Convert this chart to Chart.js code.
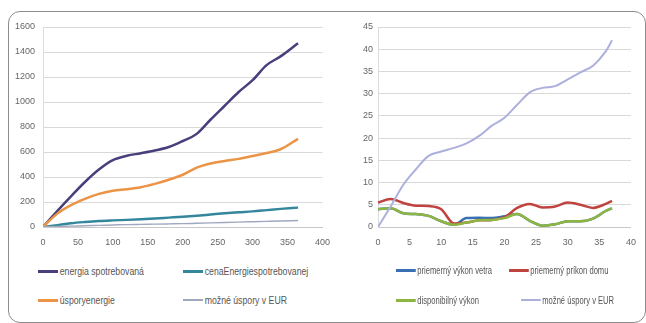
<!DOCTYPE html>
<html lang="sk">
<head>
  <meta charset="UTF-8" />
  <title>Energia a úspory</title>
  <script src="https://cdn.jsdelivr.net/npm/chart.js"></script>
  <style>
    body {
      margin: 0;
      background: #fff;
      font-family: 'Liberation Sans Narrow', 'Liberation Sans', sans-serif;
    }
    .wrap {
      position: relative;
      width: 646px;
      height: 323px;
      overflow: hidden;
    }
    .frame {
      position: absolute;
      left: 8px;
      top: 11px;
      width: 636px;
      height: 310px;
      border: 1px solid #8c8c8c;
      border-radius: 12px;
    }
    canvas { position: absolute; top: 0; }
    #leftChart { left: 0; }
    #rightChart { left: 335px; }
    .leg {
      position: absolute;
      font-size: 10px;
      color: #555;
      white-space: nowrap;
      line-height: 12px;
      transform-origin: left center;
    }
    .leg i {
      display: inline-block;
      width: 20px;
      height: 3px;
      vertical-align: middle;
      margin-right: 2px;
      margin-top: -2px;
    }
  </style>
</head>
<body>
  <div class="wrap">
    <div class="frame"></div>
    <canvas id="leftChart" width="340" height="247"></canvas>
    <canvas id="rightChart" width="311" height="247"></canvas>
    <div id="legends"></div>
  </div>

  <script>
    // left chart: days of year
    const daysX = [0, 20, 40, 60, 80, 100, 120, 140, 160, 180, 200, 220, 240, 260, 280, 300, 320, 340, 365];
    const energiaSpotrebovana = [0, 125, 245, 360, 460, 535, 570, 590, 612, 640, 688, 745, 860, 970, 1080, 1175, 1295, 1365, 1470];
    const cenaEnergie = [0, 15, 30, 40, 48, 53, 57, 62, 68, 75, 82, 90, 100, 110, 118, 125, 135, 145, 155];
    const usporyEnergie = [0, 105, 175, 225, 265, 290, 302, 318, 345, 378, 418, 475, 508, 528, 545, 568, 592, 622, 705];
    const mozneUsporyEur = [0, 4, 7, 10, 13, 16, 19, 21, 23, 25, 27, 30, 33, 36, 39, 42, 45, 48, 52];

    // right chart
    const stepX = [0, 2, 4, 6, 8, 10, 12, 14, 16, 18, 20, 22, 24, 26, 28, 30, 32, 34, 36, 37];
    const vykonVetra = [4.0, 4.2, 3.1, 2.9, 2.5, 1.3, 0.5, 2.0, 2.1, 2.0, 2.4, 2.9, 1.4, 0.3, 0.6, 1.3, 1.3, 1.9, 3.6, 4.2];
    const prikonDomu = [5.5, 6.3, 5.4, 4.8, 4.7, 4.0, 0.8, 1.0, 1.5, 1.6, 2.2, 4.3, 5.2, 4.4, 4.6, 5.5, 5.0, 4.3, 5.2, 5.9];
    const disponibilnyVykon = [4.0, 4.2, 3.1, 2.9, 2.5, 1.3, 0.5, 1.0, 1.5, 1.6, 2.0, 2.9, 1.4, 0.3, 0.6, 1.3, 1.3, 1.9, 3.6, 4.2];
    const mozneUsporyEur2 = [0, 4.6, 9.5, 13, 16, 17, 17.8, 18.8, 20.5, 22.8, 24.6, 27.5, 30.3, 31.3, 31.7, 33.2, 34.8, 36.3, 39.5, 42];

    const leftXTicks = [0, 50, 100, 150, 200, 250, 300, 350, 400];
    const leftYTicks = [0, 200, 400, 600, 800, 1000, 1200, 1400, 1600];
    const rightXTicks = [0, 5, 10, 15, 20, 25, 30, 35, 40];
    const rightYTicks = [0, 5, 10, 15, 20, 25, 30, 35, 40, 45];

    const pts = (xs, ys) => xs.map((x, i) => ({ x, y: ys[i] }));

    function series(label, xs, ys, color, width, order) {
      return {
        label,
        data: pts(xs, ys),
        borderColor: color,
        backgroundColor: color,
        borderWidth: width,
        pointRadius: 0,
        cubicInterpolationMode: 'monotone',
        fill: false,
        order // later series on top, like in the spreadsheet
      };
    }

    function makeOptions(xTicks, yTicks, rightPad, yPad) {
      return {
        responsive: false,
        animation: false,
        layout: { padding: { top: 27, right: rightPad, left: 0, bottom: 0 } },
        plugins: { legend: { display: false }, tooltip: { enabled: false } },
        scales: {
          x: {
            type: 'linear',
            min: xTicks[0],
            max: xTicks[xTicks.length - 1],
            afterBuildTicks: s => { s.ticks = xTicks.map(v => ({ value: v })); },
            afterFit: s => { s.height = 20; },
            grid: { display: false, drawTicks: false },
            border: { color: '#c8c8c8' },
            ticks: { color: '#666', font: { size: 9 }, padding: 10, maxRotation: 0, callback: v => String(v) }
          },
          y: {
            min: yTicks[0],
            max: yTicks[yTicks.length - 1],
            afterBuildTicks: s => { s.ticks = yTicks.map(v => ({ value: v })); },
            afterFit: s => { s.width = 43; },
            grid: { color: '#d9d9d9', drawTicks: false },
            border: { color: '#dcdcdc' },
            ticks: { color: '#666', font: { size: 9 }, padding: yPad, callback: v => String(v) }
          }
        }
      };
    }

    const leftChart = new Chart(document.getElementById('leftChart'), {
      type: 'line',
      data: {
        datasets: [
          series('energia spotrebovaná', daysX, energiaSpotrebovana, '#4a3f7c', 2.5, 3),
          series('cenaEnergiespotrebovanej', daysX, cenaEnergie, '#34869c', 2.5, 2),
          series('úsporyenergie', daysX, usporyEnergie, '#ec9446', 2.5, 1),
          series('možné úspory v EUR', daysX, mozneUsporyEur, '#9fa8bf', 1.5, 0)
        ]
      },
      options: makeOptions(leftXTicks, leftYTicks, 10, 8)
    });

    const rightChart = new Chart(document.getElementById('rightChart'), {
      type: 'line',
      data: {
        datasets: [
          series('priemerný výkon vetra', stepX, vykonVetra, '#3a6fb2', 2.5, 3),
          series('priemerný príkon domu', stepX, prikonDomu, '#c0433f', 2.5, 2),
          series('disponibilný výkon', stepX, disponibilnyVykon, '#8db640', 2.5, 1),
          series('možné úspory v EUR', stepX, mozneUsporyEur2, '#adb0dc', 2, 0)
        ]
      },
      options: makeOptions(rightXTicks, rightYTicks, 8, 5)
    });

    // legends laid out like the original, two rows of two
    const legendSpots = [
      { chart: leftChart, squeeze: 0.87, pos: [[38, 266], [183, 266], [38, 295], [183, 295]] },
      { chart: rightChart, squeeze: 0.76, pos: [[396, 265], [509, 265], [396, 295], [521, 295]] }
    ];
    const legends = document.getElementById('legends');
    legendSpots.forEach(({ chart, squeeze, pos }) => {
      chart.data.datasets.forEach((ds, i) => {
        const el = document.createElement('div');
        el.className = 'leg';
        el.style.left = pos[i][0] + 'px';
        el.style.top = pos[i][1] + 'px';
        el.style.transform = 'scaleX(' + squeeze + ')';
        el.innerHTML = '<i style="background:' + ds.borderColor + ';height:' + Math.ceil(ds.borderWidth) + 'px;width:' + Math.round(20 / squeeze) + 'px"></i>' + ds.label;
        legends.appendChild(el);
      });
    });
  </script>
</body>
</html>
